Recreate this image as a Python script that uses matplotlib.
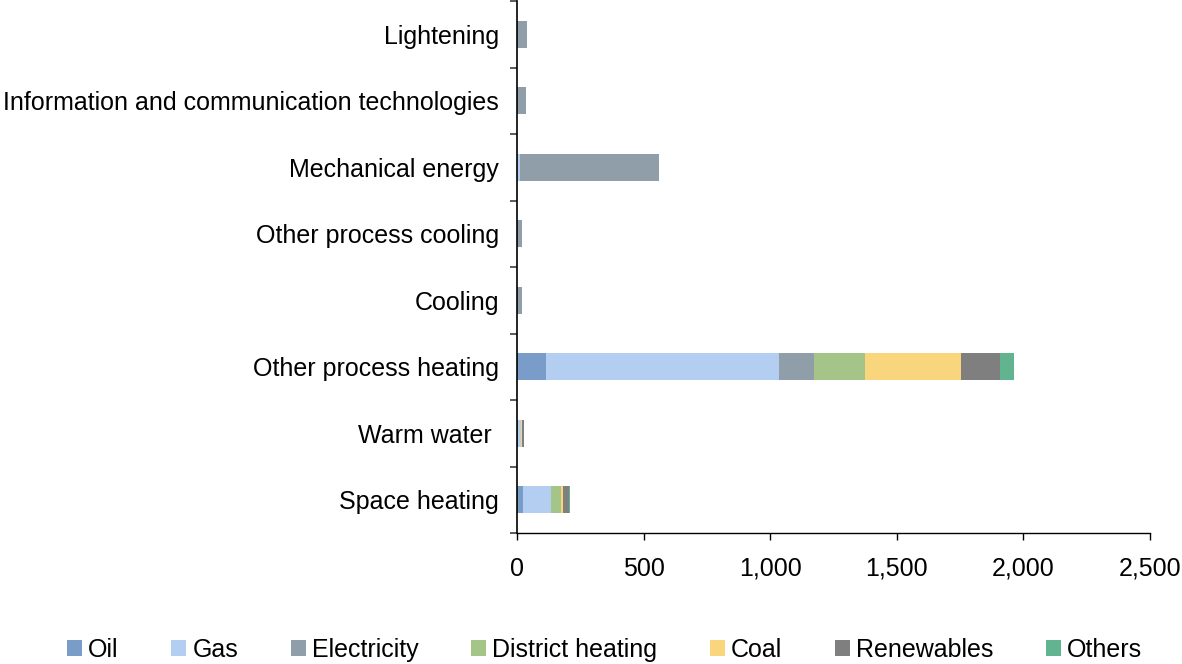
import numpy as np
import matplotlib.pyplot as plt
from matplotlib.ticker import FuncFormatter

plt.rcParams['font.family'] = ['Liberation Sans', 'DejaVu Sans']

categories = ["Space heating", "Warm water ", "Other process heating", "Cooling",
              "Other process cooling", "Mechanical energy",
              "Information and communication technologies", "Lightening"]
sources = ["Oil", "Gas", "Electricity", "District heating", "Coal", "Renewables", "Others"]
colors = ["#7A9CC8", "#B4CEF2", "#8F9EA8", "#A5C487", "#F9D57D", "#7F7F7F", "#62B491"]

oil = [22, 2, 115, 0, 0, 0, 0, 0]
gas = [112, 12, 920, 0, 0, 11, 0, 0]
electricity = [2, 1, 138, 19, 19, 549, 35, 39]
district_heating = [38, 2, 201, 0, 0, 0, 0, 0]
coal = [8, 4, 379, 0, 0, 0, 0, 0]
renewables = [24, 5, 154, 0, 0, 0, 0, 0]
others = [4, 1, 55, 0, 0, 0, 0, 0]
series = [oil, gas, electricity, district_heating, coal, renewables, others]

fig = plt.figure(figsize=(11.82, 6.64), dpi=100)
ax = fig.add_axes([517 / 1182, 1 - 533 / 664, 633 / 1182, 532 / 664])

y = np.arange(len(categories))
left = np.zeros(len(categories))
for name, vals, c in zip(sources, series, colors):
    ax.barh(y, vals, left=left, height=0.41, color=c, label=name)
    left += np.array(vals)

ax.set_xlim(0, 2500)
ax.set_ylim(-0.5, len(categories) - 0.5)
ax.set_xticks(np.arange(0, 2501, 500))
ax.xaxis.set_major_formatter(FuncFormatter(lambda v, p: f"{int(v):,}"))
ax.set_yticks(y)
ax.set_yticklabels(categories)
ax.set_yticks(np.arange(-0.5, len(categories)), minor=True)
ax.tick_params(axis='y', which='major', length=0, pad=13, labelsize=18)
ax.tick_params(axis='y', which='minor', length=5, width=1.2, color='#404040')
ax.tick_params(axis='x', length=5, width=1, pad=12, labelsize=18)
for s in ['top', 'right']:
    ax.spines[s].set_visible(False)
ax.spines['left'].set_linewidth(1.2)
ax.spines['bottom'].set_linewidth(1)

fig.legend(loc='center', bbox_to_anchor=(0.5114, 1 - 650 / 664), ncol=7, frameon=False,
           fontsize=18, handlelength=0.6, handleheight=0.6, handletextpad=0.25,
           columnspacing=2.1)

fig.savefig("out.png", dpi=100)
